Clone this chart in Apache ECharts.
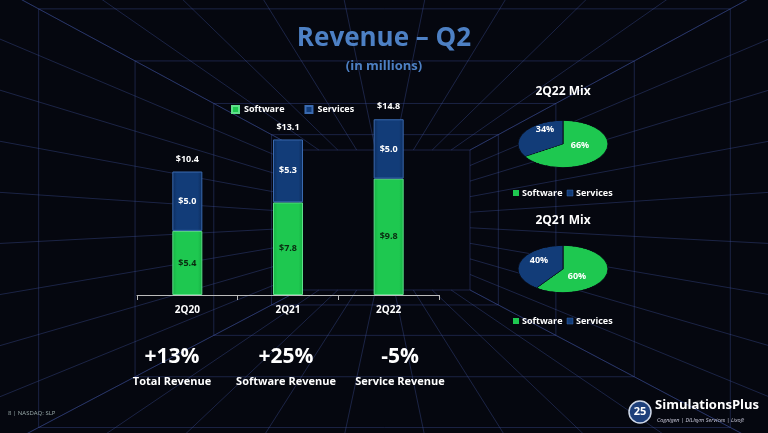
<!DOCTYPE html>
<html>
<head>
<meta charset="utf-8">
<script src="https://cdn.jsdelivr.net/npm/echarts@6/dist/echarts.min.js"></script>
<style>
  html, body { margin: 0; padding: 0; background: #05070f; }
  #main, #over { position: absolute; left: 0; top: 0; width: 768px; height: 433px; }
  #over { z-index: 5; pointer-events: none; }
  .pie { position: absolute; width: 110px; height: 100px; transform: scaleY(0.52); z-index: 2; }
</style>
</head>
<body>
<div id="main"></div>
<div id="pie22" class="pie" style="left:508px; top:94px;"></div>
<div id="pie21" class="pie" style="left:508px; top:219px;"></div>
<div id="over"></div>
<script>
// 数据
var categories = ['2Q20', '2Q21', '2Q22'];
var software = [5.4, 7.8, 9.8];
var services = [5.0, 5.3, 5.0];
var totals = [10.4, 13.1, 14.8];
var mix22 = [66, 34];
var mix21 = [60, 40];
var mixNames = ['Software', 'Services'];
var growth = ['+13%', '+25%', '-5%'];
var growthLabels = ['Total Revenue', 'Software Revenue', 'Service Revenue'];

var GREEN = '#1ec850', NAVY = '#123c78';
var font = "'Open Sans', 'DejaVu Sans', sans-serif";

//背景透视网格
function gridLines() {
    var els = [];
    var inner = { x1: 300, y1: 150, x2: 470, y2: 290 };
    var outer = { x1: -200, y1: -120, x2: 968, y2: 553 };
    var n = 9;
    for (var i = 0; i <= n; i++) {
        var t = i / n;
        els.push({ type: 'line', shape: { x1: outer.x1 + (outer.x2 - outer.x1) * t, y1: outer.y1, x2: inner.x1 + (inner.x2 - inner.x1) * t, y2: inner.y1 } });
        els.push({ type: 'line', shape: { x1: outer.x1 + (outer.x2 - outer.x1) * t, y1: outer.y2, x2: inner.x1 + (inner.x2 - inner.x1) * t, y2: inner.y2 } });
        els.push({ type: 'line', shape: { x1: outer.x1, y1: outer.y1 + (outer.y2 - outer.y1) * t, x2: inner.x1, y2: inner.y1 + (inner.y2 - inner.y1) * t } });
        els.push({ type: 'line', shape: { x1: outer.x2, y1: outer.y1 + (outer.y2 - outer.y1) * t, x2: inner.x2, y2: inner.y1 + (inner.y2 - inner.y1) * t } });
    }
    for (var k = 1; k <= 5; k++) {
        var s = Math.pow(k / 6, 1.6);
        els.push({ type: 'rect', shape: {
            x: inner.x1 + (outer.x1 - inner.x1) * s, y: inner.y1 + (outer.y1 - inner.y1) * s,
            width: (inner.x2 - inner.x1) + ((outer.x2 - outer.x1) - (inner.x2 - inner.x1)) * s,
            height: (inner.y2 - inner.y1) + ((outer.y2 - outer.y1) - (inner.y2 - inner.y1)) * s } });
    }
    els.push({ type: 'rect', shape: { x: inner.x1, y: inner.y1, width: inner.x2 - inner.x1, height: inner.y2 - inner.y1 } });
    els.forEach(function (e) { e.style = { stroke: 'rgba(70,90,170,0.35)', fill: null, lineWidth: 1 }; e.silent = true; e.z = -10; });
    return els;
}

var texts = [
    { type: 'text', left: 'center', top: 26, style: { text: 'Revenue – Q2', fill: '#4d80c4', font: 'bold 26px ' + font } },
    { type: 'text', left: 'center', top: 60, style: { text: '(in millions)', fill: '#4d80c4', font: 'bold 13px ' + font } },
    { type: 'text', x: 563, y: 92, style: { text: '2Q22 Mix', fill: '#fff', font: 'bold 12px ' + font, align: 'center', verticalAlign: 'middle' } },
    { type: 'text', x: 563, y: 221, style: { text: '2Q21 Mix', fill: '#fff', font: 'bold 12px ' + font, align: 'center', verticalAlign: 'middle' } },
    { type: 'text', x: 8, y: 413, style: { text: '8 | NASDAQ: SLP', fill: '#9aa', font: '6px ' + font, verticalAlign: 'middle' } },
    { type: 'circle', shape: { cx: 640, cy: 412, r: 11 }, style: { fill: '#1d3f7a', stroke: '#cfd8e8', lineWidth: 1.5 } },
    { type: 'text', x: 640, y: 412, style: { text: '25', fill: '#fff', font: 'bold 11px ' + font, align: 'center', verticalAlign: 'middle' } },
    { type: 'text', x: 655, y: 405, style: { text: 'SimulationsPlus', fill: '#fff', font: 'bold 13px ' + font, verticalAlign: 'middle' } },
    { type: 'text', x: 657, y: 420, style: { text: 'Cognigen | DILIsym Services | Lixoft', fill: '#ccd', font: 'italic 5.5px ' + font, verticalAlign: 'middle' } }
];
var gx = [172, 286, 400];
for (var i = 0; i < growth.length; i++) {
    texts.push({ type: 'text', x: gx[i], y: 357, style: { text: growth[i], fill: '#fff', font: 'bold 21px ' + font, align: 'center', verticalAlign: 'middle' } });
    texts.push({ type: 'text', x: gx[i], y: 382, style: { text: growthLabels[i], fill: '#fff', font: 'bold 11px ' + font, align: 'center', verticalAlign: 'middle' } });
}
[193, 321].forEach(function (y) {
    texts.push({ type: 'rect', shape: { x: 513, y: y - 3, width: 6, height: 6 }, style: { fill: GREEN } });
    texts.push({ type: 'text', x: 522, y: y, style: { text: 'Software', fill: '#fff', font: 'bold 9px ' + font, verticalAlign: 'middle' } });
    texts.push({ type: 'rect', shape: { x: 567, y: y - 3, width: 6, height: 6 }, style: { fill: NAVY, stroke: '#3a6ab0', lineWidth: 0.5 } });
    texts.push({ type: 'text', x: 576, y: y, style: { text: 'Services', fill: '#fff', font: 'bold 9px ' + font, verticalAlign: 'middle' } });
});

var myChart = echarts.init(document.getElementById('main'));
myChart.setOption({
    backgroundColor: '#05070f',
    animation: false,
    graphic: gridLines().concat(texts),
    legend: {
        left: 226, top: 100, itemWidth: 7, itemHeight: 7, itemGap: 20,
        textStyle: { color: '#fff', fontSize: 9, fontWeight: 'bold', fontFamily: font },
        data: [{ name: 'Software', icon: 'rect' }, { name: 'Services', icon: 'rect' }]
    },
    grid: { left: 137, top: 105, width: 302, height: 190 },
    xAxis: {
        type: 'category', data: categories,
        axisLine: { lineStyle: { color: '#bbb' } },
        axisTick: { show: true, lineStyle: { color: '#bbb' }, length: 5 },
        axisLabel: { color: '#fff', fontSize: 10, fontWeight: 'bold', fontFamily: font, margin: 10 }
    },
    yAxis: { type: 'value', min: 0, max: 16, show: false, splitLine: { show: false } },
    series: [
        {
            name: 'Software', type: 'bar', stack: 'rev', barWidth: 30, data: software,
            itemStyle: { color: new echarts.graphic.LinearGradient(0, 0, 1, 0, [
                { offset: 0, color: '#17b043' }, { offset: 0.15, color: GREEN }, { offset: 0.85, color: GREEN }, { offset: 1, color: '#17b043' }]),
                borderColor: '#5fe08a', borderWidth: 1 },
            label: { show: true, color: '#0a2a10', fontSize: 9, fontWeight: 'bold', fontFamily: font,
                formatter: function (p) { return '$' + p.value.toFixed(1); } }
        },
        {
            name: 'Services', type: 'bar', stack: 'rev', barWidth: 30, data: services,
            itemStyle: { color: new echarts.graphic.LinearGradient(0, 0, 1, 0, [
                { offset: 0, color: '#0d2c5c' }, { offset: 0.15, color: NAVY }, { offset: 0.85, color: NAVY }, { offset: 1, color: '#0d2c5c' }]),
                borderColor: '#3a6ab0', borderWidth: 1 },
            label: { show: true, color: '#fff', fontSize: 9, fontWeight: 'bold', fontFamily: font,
                formatter: function (p) { return '$' + p.value.toFixed(1); } }
        },
        {
            name: 'Total', type: 'bar', barGap: '-100%', barWidth: 30, data: totals, z: -1,
            itemStyle: { color: 'transparent' },
            label: { show: true, position: 'top', distance: 8, color: '#fff', fontSize: 9, fontWeight: 'bold', fontFamily: font,
                formatter: function (p) { return '$' + p.value.toFixed(1); } }
        }
    ]
});

function drawPie(id, vals) {
    var c = echarts.init(document.getElementById(id));
    c.setOption({
        animation: false,
        series: [{
            type: 'pie', radius: '90%', center: ['50%', '50%'], startAngle: 90,
            label: { show: false }, labelLine: { show: false },
            itemStyle: { borderColor: '#0a0d18', borderWidth: 1 },
            data: [
                { name: mixNames[0], value: vals[0], itemStyle: { color: GREEN } },
                { name: mixNames[1], value: vals[1], itemStyle: { color: NAVY } }
            ]
        }]
    });
}
drawPie('pie22', mix22);
drawPie('pie21', mix21);

// 饼图百分比标签（覆盖层）
function pct(x, y, v, col) {
    return { type: 'text', x: x, y: y, style: { text: v + '%', fill: col, font: 'bold 9px ' + font, align: 'center', verticalAlign: 'middle' } };
}
var over = echarts.init(document.getElementById('over'));
over.setOption({
    graphic: [
        pct(580, 145, mix22[0], '#fff'), pct(545, 129, mix22[1], '#fff'),
        pct(577, 276, mix21[0], '#fff'), pct(539, 260, mix21[1], '#fff')
    ]
});
</script>
</body>
</html>
